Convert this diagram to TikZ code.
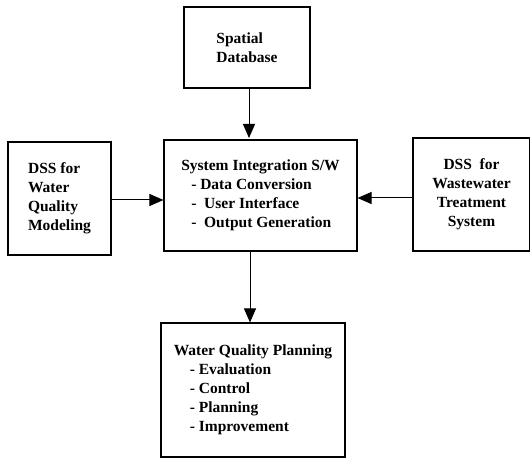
\documentclass[tikz,border=0pt]{standalone}
\usepackage{fontspec}
\setmainfont{Liberation Serif}
\usetikzlibrary{arrows.meta}
\begin{document}
\begin{tikzpicture}[x=1pt,y=1pt,
  box/.style={draw, line width=1.1pt, rectangle, inner sep=0pt,
    font=\bfseries\fontsize{15.5}{19}\selectfont},
  conn/.style={line width=1pt, -{Triangle[length=14pt,width=12pt]}}]
\useasboundingbox (0,0) rectangle (530,458);
% boxes (y measured from bottom)
\node[box, minimum width=126, minimum height=81, align=left] (sd) at (247,410.5) {Spatial\\Database};
\node[box, minimum width=193, minimum height=111, align=left] (si) at (260.5,262.5)
  {System Integration S/W\\\hspace*{10pt}- Data Conversion\\\hspace*{10pt}-\ \ User Interface\\\hspace*{10pt}-\ \ Output Generation};
\node[box, minimum width=103, minimum height=113, align=left] (wq) at (59.5,259.5)
  {DSS for\\Water\\Quality\\Modeling};
\node[box, minimum width=117, minimum height=113, align=center] (ww) at (471.5,263.5)
  {DSS\ \ for\\Wastewater\\Treatment\\System};
\node[box, minimum width=184, minimum height=134, align=left] (wp) at (253,68)
  {Water Quality Planning\\\hspace*{16pt}- Evaluation\\\hspace*{16pt}- Control\\\hspace*{16pt}- Planning\\\hspace*{16pt}- Improvement};
% connectors
\draw[conn] (sd.south -| 249,0) -- (249,320) coordinate (t1);
\draw[conn] (wq.east |- 0,258) -- (si.west |- 0,258);
\draw[conn] (ww.west |- 0,260) -- (si.east |- 0,260);
\draw[conn] (si.south -| 250,0) -- (wp.north -| 250,0);
\end{tikzpicture}
\end{document}
